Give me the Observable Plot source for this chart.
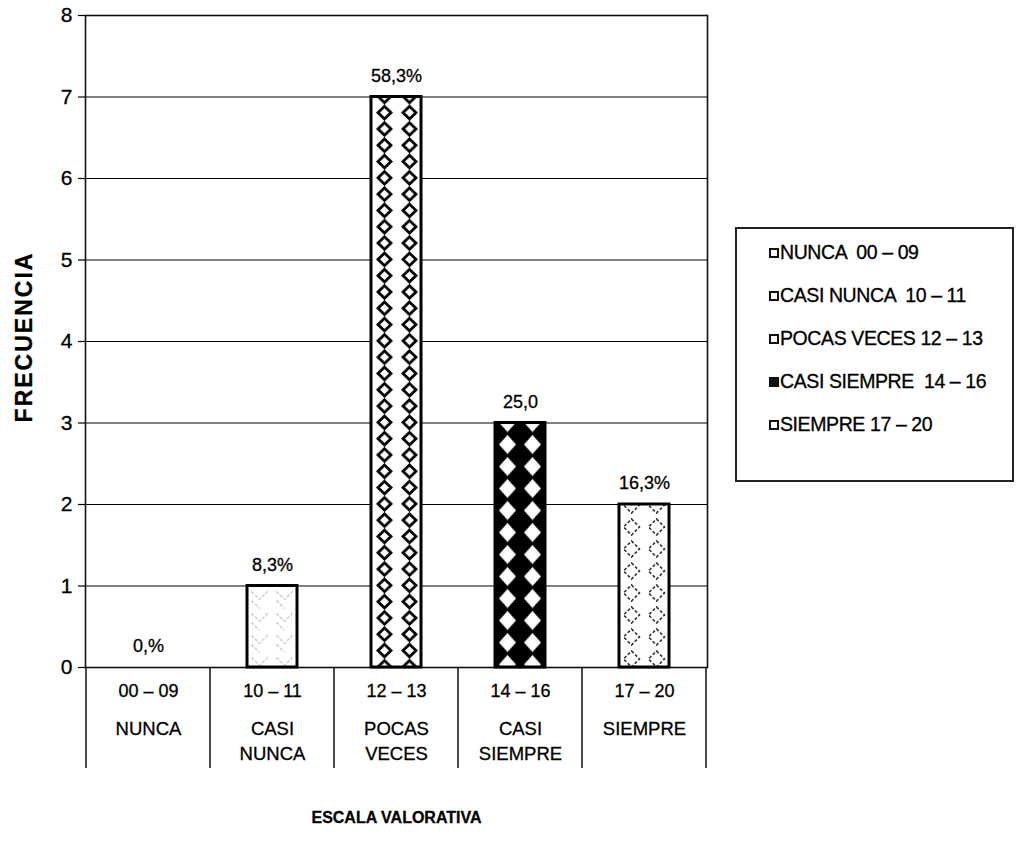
<!DOCTYPE html>
<html>
<head>
<meta charset="utf-8">
<script src="https://cdn.jsdelivr.net/npm/d3@7"></script>
<script src="https://cdn.jsdelivr.net/npm/@observablehq/plot@0.6"></script>
<style>
  html, body { margin: 0; padding: 0; background: white; }
  #wrap { position: relative; width: 1022px; height: 851px; font-family: "Liberation Sans", Arial, sans-serif; }
  #wrap svg text { stroke: #000; stroke-width: 0.3px; }
  #legend { position: absolute; left: 735px; top: 227px; width: 279px; height: 255px; border: 2px solid #222; box-sizing: border-box; }
  .item { position: absolute; left: 32px; font-size: 19.5px; letter-spacing: -0.4px; white-space: pre; color: #000; line-height: 1; -webkit-text-stroke: 0.3px #000; }
  .sw { display: inline-block; width: 6px; height: 6px; border: 2.5px solid #111; background: #fff; margin-right: 1px; vertical-align: 1px; }
  .sw.dark { background: #111; }
</style>
</head>
<body>
<div id="wrap"></div>
<script>
// ---- data ----
const rangos = ["00 – 09", "10 – 11", "12 – 13", "14 – 16", "17 – 20"];
const niveles = ["NUNCA", "CASI\nNUNCA", "POCAS\nVECES", "CASI\nSIEMPRE", "SIEMPRE"];
const frecuencias = [0, 1, 7, 3, 2];
const etiquetas = ["0,%", "8,3%", "58,3%", "25,0", "16,3%"];
const yTicks = [0, 1, 2, 3, 4, 5, 6, 7, 8];
const leyenda = ["NUNCA  00 – 09", "CASI NUNCA  10 – 11", "POCAS VECES 12 – 13", "CASI SIEMPRE  14 – 16", "SIEMPRE 17 – 20"];
const tituloY = "FRECUENCIA";
const tituloX = "ESCALA VALORATIVA";

const datos = rangos.map((r, i) => ({
  rango: r, nivel: niveles[i], frecuencia: frecuencias[i], etiqueta: etiquetas[i], idx: i
}));

const font = "Liberation Sans, Arial, sans-serif";

const chart = Plot.plot({
  width: 1022,
  height: 851,
  marginLeft: 85,
  marginRight: 315,
  marginTop: 15,
  marginBottom: 184,
  style: { fontFamily: font, fontSize: "17px", color: "black", background: "white", overflow: "visible" },
  x: { domain: rangos, paddingInner: 0.6, paddingOuter: 0.3, axis: null },
  y: { domain: [0, 8], axis: null },
  color: { type: "identity" },
  marks: [
    Plot.ruleY(yTicks.slice(1, -1), { stroke: "black", strokeWidth: 1.2 }),
    Plot.frame({ stroke: "#111", strokeWidth: 1.6 }),
    Plot.axisY({ ticks: yTicks, tickSize: 7, tickPadding: 7, label: null, stroke: "black", strokeWidth: 1.2, text: null }),
    Plot.text(yTicks, { y: d => d, text: d => String(d), frameAnchor: "left", dx: -13, textAnchor: "end", fontSize: 21 }),
    Plot.barY(datos, { x: "rango", y: "frecuencia", fill: d => `url(#pat-${d.idx})`, stroke: "black", strokeWidth: 3 }),
    Plot.text(datos, { x: "rango", y: "frecuencia", text: "etiqueta", dy: -21, fontSize: 18 }),
    Plot.text(datos, { x: "rango", y: 0, text: "rango", dy: 24, fontSize: 18 }),
    Plot.text(datos, { x: "rango", y: 0, text: "nivel", dy: 50, lineAnchor: "top", lineHeight: 1.35, fontSize: 18.5 }),
    Plot.text([tituloX], { frameAnchor: "bottom", dy: 155, text: d => d, fontSize: 16, fontWeight: "bold" })
  ]
});

document.getElementById("wrap").appendChild(chart);

// ---- patterns, titles & table separators derived from the plot's own scales ----
const svg = d3.select(chart);
const xs = chart.scale("x");
const ys = chart.scale("y");
const bw = xs.bandwidth;
const step = xs.step;
const defs = svg.insert("defs", ":first-child");

function pattern(id, w, h, x, y) {
  return defs.append("pattern").attr("id", id).attr("patternUnits", "userSpaceOnUse")
    .attr("width", w).attr("height", h).attr("x", x).attr("y", y);
}
datos.forEach(d => {
  const left = xs.apply(d.rango);
  const top = ys.apply(d.frecuencia);
  const i = d.idx;
  const c = bw / 4;
  if (i === 1) {
    const h = 22;
    const p = pattern(`pat-${i}`, bw / 2, h, left, top + 3);
    p.append("rect").attr("width", bw / 2).attr("height", h).attr("fill", "white");
    p.append("path").attr("d", `M${c-8},3 L${c},11 L${c+8},3 M${c-8},12 L${c},20`)
      .attr("fill", "none").attr("stroke", "#8a8a8a").attr("stroke-width", 1).attr("stroke-dasharray", "3,2");
  } else if (i === 2) {
    const h = 16.3;
    const p = pattern(`pat-${i}`, bw / 2, h, left + 1, top + 8);
    p.append("rect").attr("width", bw / 2).attr("height", h).attr("fill", "white");
    p.append("path").attr("d", `M${c},${h/2-6.3} L${c+6.5},${h/2} L${c},${h/2+6.3} L${c-6.5},${h/2} Z`)
      .attr("fill", "white").attr("stroke", "black").attr("stroke-width", 2.8);
  } else if (i === 3) {
    const h = 22;
    const p = pattern(`pat-${i}`, bw / 2, h, left, top - h / 2);
    p.append("rect").attr("width", bw / 2).attr("height", h).attr("fill", "black");
    p.append("path").attr("d", `M${c},${h/2-9.5} L${c+8.5},${h/2} L${c},${h/2+9.5} L${c-8.5},${h/2} Z`)
      .attr("fill", "white");
  } else {
    const h = 22;
    const p = pattern(`pat-${i}`, bw / 2, h, left, top + 12);
    p.append("rect").attr("width", bw / 2).attr("height", h).attr("fill", "white");
    p.append("path").attr("d", `M${c},${h/2-8} L${c+8},${h/2} L${c},${h/2+8} L${c-8},${h/2} Z`)
      .attr("fill", "none").attr("stroke", "#333").attr("stroke-width", 1.6).attr("stroke-dasharray", "3,2");
  }
});

// table separators under the x categories
const y0 = ys.apply(0);
const bounds = rangos.map(r => xs.apply(r) + bw / 2 - step / 2);
bounds.push(xs.apply(rangos[rangos.length - 1]) + bw / 2 + step / 2);
svg.append("g").selectAll("line").data(bounds).join("line")
  .attr("x1", d => d).attr("x2", d => d).attr("y1", y0).attr("y2", y0 + 101)
  .attr("stroke", "#111").attr("stroke-width", 1.5);

// y title
const yMid = (ys.apply(0) + ys.apply(8)) / 2 - 4;
svg.append("text")
  .attr("transform", `translate(${bounds[0] - 62},${yMid}) rotate(-90)`)
  .attr("text-anchor", "middle").attr("dy", "0.35em")
  .attr("font-family", font).attr("font-weight", "bold").attr("font-size", 23)
  .attr("letter-spacing", "2px")
  .text(tituloY);

// ---- legend ----
const lg = d3.select("#wrap").append("div").attr("id", "legend");
leyenda.forEach((t, i) => {
  const it = lg.append("div").attr("class", "item").style("top", `${14 + i * 43}px`);
  it.append("span").attr("class", i === 3 ? "sw dark" : "sw");
  it.append("span").text(t);
});
</script>
</body>
</html>
